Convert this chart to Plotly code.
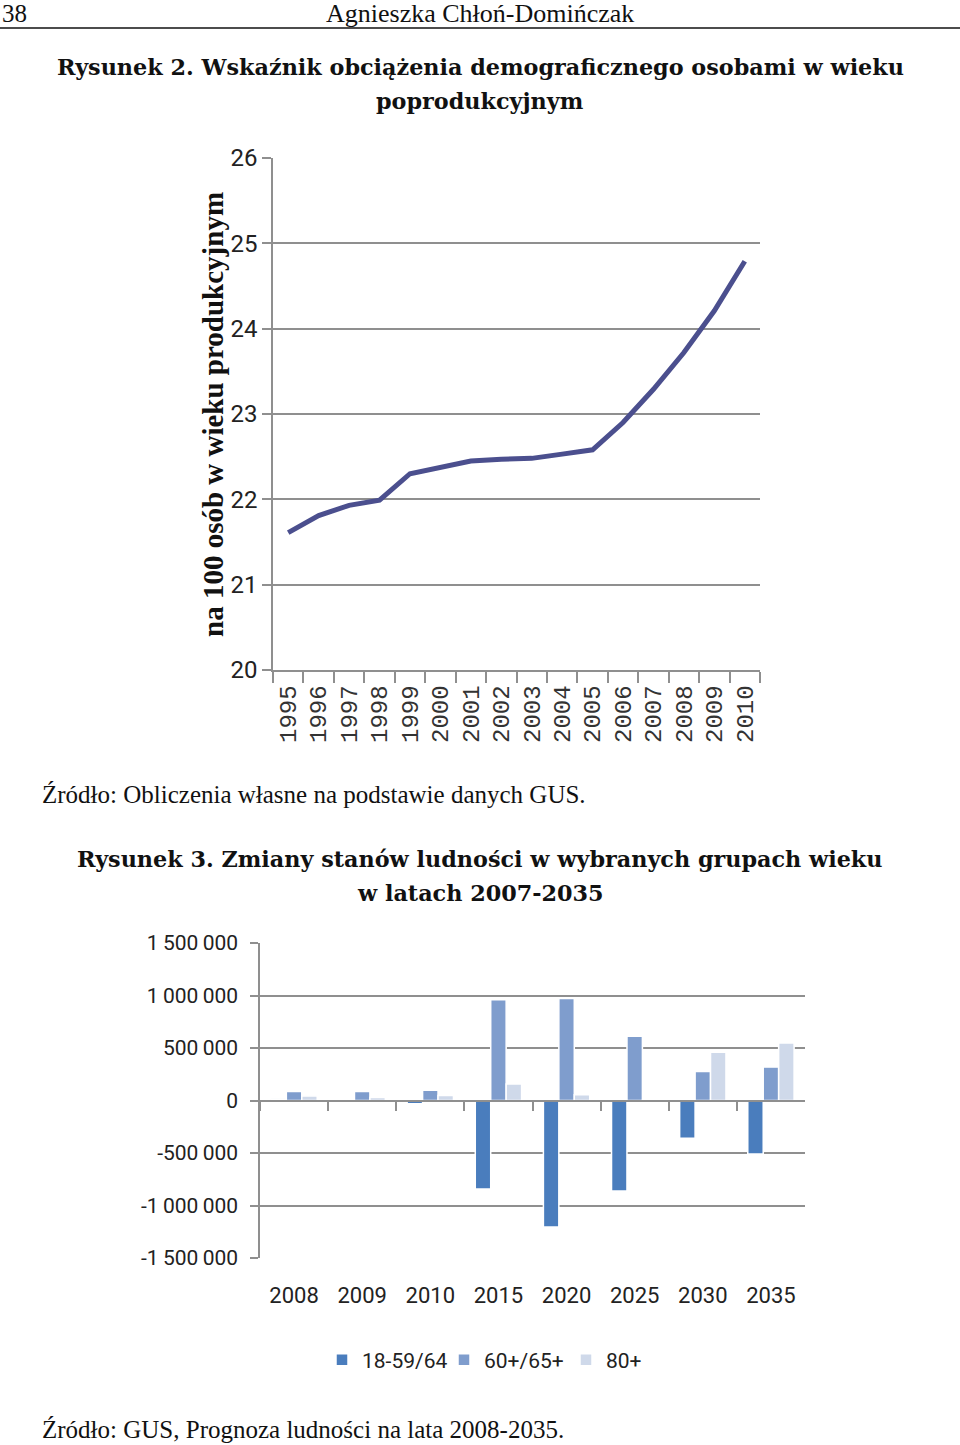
import plotly.graph_objects as go

# ---------------- data ----------------
years1 = ["1995", "1996", "1997", "1998", "1999", "2000", "2001", "2002",
          "2003", "2004", "2005", "2006", "2007", "2008", "2009", "2010"]
ratio_values = [21.61, 21.81, 21.93, 21.99, 22.30, 22.38, 22.45, 22.47,
                22.48, 22.53, 22.58, 22.90, 23.29, 23.72, 24.21, 24.79]

cats2 = ["2008", "2009", "2010", "2015", "2020", "2025", "2030", "2035"]
series_names = ["18-59/64", "60+/65+", "80+"]
working_age = [15000, -5000, -30000, -843000, -1204000, -863000, -360000, -510000]
post_working = [85000, 85000, 97000, 960000, 971000, 611000, 277000, 318000]
age_80plus = [44000, 28000, 47000, 157000, 54000, -15000, 459000, 548000]

y2_tickvals = [1500000, 1000000, 500000, 0, -500000, -1000000, -1500000]
y2_ticktext = ["1\u2009500\u2009000", "1\u2009000\u2009000", "500\u2009000", "0",
               "-500\u2009000", "-1\u2009000\u2009000", "-1\u2009500\u2009000"]

# ---------------- layout helpers ----------------
W, H = 960, 1445


def px(x):
    return x / W


def py(y):
    return 1 - y / H


SERIF = "Liberation Serif, Times New Roman, serif"
SERIF_B = "DejaVu Serif, serif"
NARROW = "Roboto, sans-serif"
GRID = "#8f8f8f"

fig = go.Figure()

# Chart 1: line
fig.add_trace(go.Scatter(
    x=years1, y=ratio_values, mode="lines",
    line=dict(color="#4b4f8e", width=5),
    xaxis="x", yaxis="y", showlegend=False, hoverinfo="x+y"))

# Chart 2: bars
colors2 = ["#4a7dbd", "#7f9dcd", "#cfd9ea"]
for name, vals, c in zip(series_names, [working_age, post_working, age_80plus], colors2):
    fig.add_trace(go.Bar(
        x=cats2, y=vals, name=name, marker=dict(color=c, line=dict(color="white", width=1.5)),
        xaxis="x2", yaxis="y2"))

# invisible helper trace for the zero-position category axis (tick marks)
fig.add_trace(go.Scatter(x=cats2, y=working_age, mode="none", xaxis="x3", yaxis="y2",
                         showlegend=False, hoverinfo="skip"))

y1_dom = [py(670), py(158)]
y2_dom = [py(1258), py(943)]
n1 = len(years1)
n2 = len(cats2)

fig.update_layout(
    width=W, height=H,
    margin=dict(l=0, r=0, t=0, b=0, pad=0, autoexpand=False),
    paper_bgcolor="white", plot_bgcolor="white",
    barmode="group", bargap=0.32, bargroupgap=0.0,
    xaxis=dict(
        domain=[px(273), px(760)], anchor="y", type="category", automargin=False,
        range=[-0.5, n1 - 0.5],
        showline=True, linecolor=GRID, linewidth=1.5,
        ticks="outside", tickson="boundaries", ticklen=11, tickcolor=GRID, tickwidth=1.5,
        ticklabelstandoff=4,
        tickangle=-90, tickfont=dict(family="Liberation Mono, monospace", size=24, color="#333"),
        showgrid=False),
    yaxis=dict(
        domain=y1_dom, anchor="x", range=[20, 26], dtick=1, automargin=False,
        showline=True, linecolor=GRID, linewidth=1.5,
        ticks="outside", ticklen=9, tickcolor=GRID, tickwidth=1.5,
        showgrid=True, gridcolor=GRID, gridwidth=1.5,
        tickfont=dict(family=NARROW, size=24, color="#222"),
        zeroline=False),
    xaxis2=dict(
        domain=[px(260), px(805)], anchor="y2", type="category", automargin=False,
        range=[-0.5, n2 - 0.5],
        showline=False, ticks="", showgrid=False,
        ticklabelstandoff=22,
        tickfont=dict(family=NARROW, size=22, color="#222")),
    yaxis2=dict(
        domain=y2_dom, anchor="x2", range=[-1500000, 1500000], automargin=False,
        tickvals=y2_tickvals, ticktext=y2_ticktext,
        showline=True, linecolor=GRID, linewidth=1.5,
        ticks="outside", ticklen=8, tickcolor=GRID, tickwidth=1.5,
        ticklabelstandoff=8,
        showgrid=True, gridcolor=GRID, gridwidth=1.5,
        zeroline=False,
        tickfont=dict(family=NARROW, size=21, color="#222")),
    xaxis3=dict(
        overlaying="x2", anchor="free", position=(y2_dom[0] + y2_dom[1]) / 2,
        type="category", categoryarray=cats2, automargin=False,
        range=[-0.5, n2 - 0.5],
        showline=True, linecolor=GRID, linewidth=1.5,
        ticks="outside", tickson="boundaries", ticklen=10, tickcolor=GRID, tickwidth=1.5,
        showticklabels=False, showgrid=False),
    legend=dict(orientation="h", x=px(322), y=py(1360), xanchor="left", yanchor="middle",
                font=dict(family=NARROW, size=21, color="#222"), itemwidth=30,
                entrywidth=77, entrywidthmode="pixels",
                traceorder="normal"),
)

# ---------------- page text ----------------
ann = []


def text(x, y, s, size, family=SERIF, xanchor="center", angle=0, bold=False):
    ann.append(dict(x=px(x), y=py(y), xref="paper", yref="paper", text=(f"<b>{s}</b>" if bold else s),
                    showarrow=False, xanchor=xanchor, yanchor="middle", textangle=angle,
                    font=dict(family=family, size=size, color="#111")))


text(0, 13, "38", 25, xanchor="left")
text(480, 13, "Agnieszka Chłoń-Domińczak", 26)
text(480, 67, "Rysunek 2. Wskaźnik obciążenia demograficznego osobami w wieku", 22.3, family=SERIF_B, bold=True)
text(480, 101, "poprodukcyjnym", 22.3, family=SERIF_B, bold=True)
text(213, 415, "na 100 osób w wieku produkcyjnym", 29, angle=-90, bold=True)
text(40, 794, "Źródło: Obliczenia własne na podstawie danych GUS.", 25, xanchor="left")
text(480, 859, "Rysunek 3. Zmiany stanów ludności w wybranych grupach wieku", 22.3, family=SERIF_B, bold=True)
text(480, 893, "w latach 2007-2035", 22.3, family=SERIF_B, bold=True)
text(40, 1429, "Źródło: GUS, Prognoza ludności na lata 2008-2035.", 25, xanchor="left")

fig.update_layout(annotations=ann)
fig.add_shape(type="line", xref="paper", yref="paper", x0=0, x1=1, y0=py(28), y1=py(28),
              line=dict(color="#111", width=1.5))

fig.write_html("out.html", config={"displayModeBar": False},
               post_script="document.body.style.margin='0';document.body.style.overflow='hidden';")
